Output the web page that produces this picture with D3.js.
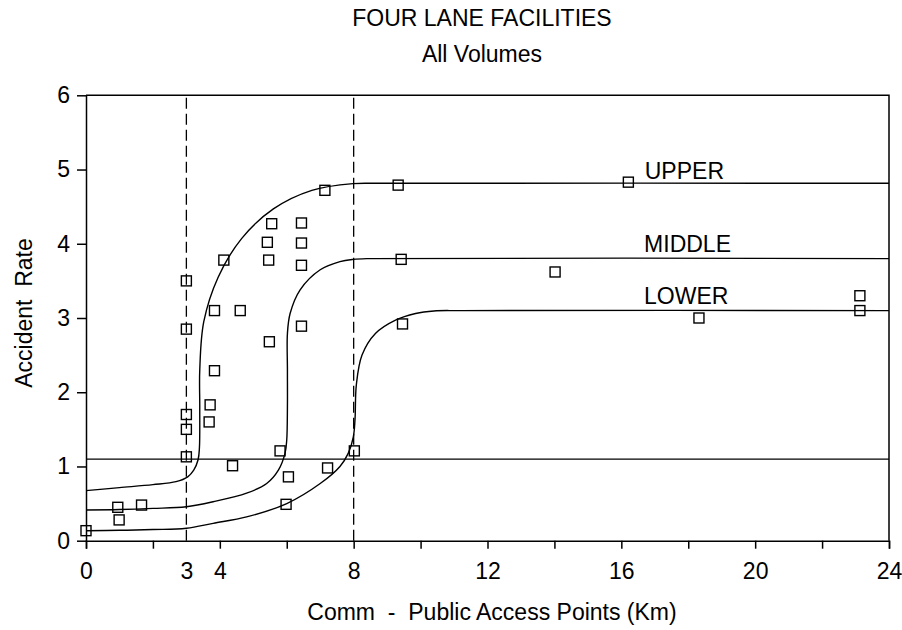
<!DOCTYPE html>
<html>
<head>
<meta charset="utf-8">
<script src="https://cdn.jsdelivr.net/npm/d3@7"></script>
<style>
  body { margin: 0; background: #fff; }
  text { font-family: "Liberation Sans", Arial, sans-serif; fill: #000; }
</style>
</head>
<body>
<div id="chart"></div>
<script>
// chart data
const titleText = "FOUR LANE FACILITIES";
const subtitleText = "All Volumes";
const xLabelText = "Comm  -  Public Access Points (Km)";
const yLabelText = "Accident  Rate";

const xTickMarks = [0, 2, 4, 6, 8, 10, 12, 14, 16, 18, 20, 22, 24];
const xTickLabels = [0, 3, 4, 8, 12, 16, 20, 24];
const yTickLabels = [0, 1, 2, 3, 4, 5, 6];

const dashedX = [3, 8];
const thresholdRate = 1.1;

// observed sites [access points per km, accident rate]
const observations = [
  [0, 0.135], [0.95, 0.45], [0.99, 0.28], [1.66, 0.48],
  [3.0, 3.5], [3.0, 2.85], [3.0, 1.70], [3.0, 1.50], [3.0, 1.13],
  [3.68, 1.60], [3.71, 1.83], [3.84, 2.29], [3.84, 3.10], [4.12, 3.78],
  [4.38, 1.01], [4.61, 3.10], [5.42, 4.02], [5.46, 3.78], [5.48, 2.68],
  [5.55, 4.27], [5.80, 1.21], [5.98, 0.49], [6.05, 0.86], [6.44, 4.28],
  [6.44, 4.01], [6.44, 3.71], [6.44, 2.89], [7.14, 4.72], [7.22, 0.98],
  [8.02, 1.21], [9.33, 4.79], [9.42, 3.79], [9.46, 2.92], [14.02, 3.62],
  [16.21, 4.83], [18.32, 3.00], [23.13, 3.30], [23.13, 3.10]
];

// fitted envelope curves
const upperCurve = [
  [0, 0.674], [1, 0.715], [2, 0.755], [2.69, 0.795], [3.04, 0.86],
  [3.22, 0.95], [3.35, 1.09], [3.39, 1.25], [3.40, 1.8], [3.40, 2.3],
  [3.52, 2.95], [3.95, 3.55], [4.65, 4.07], [5.6, 4.47], [6.75, 4.72],
  [7.98, 4.81], [8.8, 4.815], [24, 4.815]
];
const middleCurve = [
  [0, 0.414], [1, 0.42], [2, 0.435], [3.0, 0.458], [3.8, 0.525],
  [4.8, 0.64], [5.4, 0.77], [5.75, 0.95], [5.95, 1.18], [6.0, 1.36],
  [6.02, 1.8], [6.02, 2.3], [6.02, 2.79], [6.10, 3.06], [6.40, 3.38],
  [7.0, 3.65], [7.59, 3.76], [7.99, 3.79], [8.4, 3.80], [24, 3.80]
];
const lowerCurve = [
  [0, 0.135], [1, 0.14], [2, 0.15], [3.0, 0.167], [3.8, 0.234],
  [4.8, 0.32], [6.0, 0.50], [7.0, 0.77], [7.59, 1.0], [7.84, 1.18],
  [7.99, 1.40], [8.04, 1.63], [8.08, 2.1], [8.25, 2.5], [8.65, 2.79],
  [9.25, 2.97], [9.85, 3.06], [10.4, 3.095], [11.2, 3.10], [24, 3.10]
];
const curveNames = ["UPPER", "MIDDLE", "LOWER"];

let margin = null,
    width = null,
    height = null;
let svg = null;
let x = null,
    y = null;

renderChart();

function renderChart() {
  setupCanvas();
  setupScales();
  appendFrame();
  appendAxes();
  appendGuides();
  appendCurves();
  appendPoints();
  appendTexts();
}

// canvas and plot area
function setupCanvas() {
  margin = {top: 95.3, left: 86, bottom: 89.3, right: 13};
  width = 902 - margin.left - margin.right;
  height = 630 - margin.top - margin.bottom;

  svg = d3.select("#chart")
    .append("svg")
    .attr("width", 902)
    .attr("height", 630)
    .append("g")
    .attr("transform", `translate(${margin.left},${margin.top})`);
}

function setupScales() {
  x = d3.scaleLinear().domain([0, 24]).range([0, width]);
  y = d3.scaleLinear().domain([0, 6]).range([height, 0]);
}

// top and right border of the plot
function appendFrame() {
  svg.append("path")
    .attr("fill", "none")
    .attr("stroke", "#000")
    .attr("stroke-width", 1.5)
    .attr("d", `M${x(0)},${y(6)}H${x(24)}V${y(0)}`);
}

function appendAxes() {
  // tick marks every 2 km
  let xMarks = svg.append("g")
    .attr("transform", `translate(0,${height})`)
    .call(d3.axisBottom(x).tickValues(xTickMarks).tickSize(8).tickFormat(""));

  // labels, including the 3 km threshold
  let xLabels = svg.append("g")
    .attr("transform", `translate(0,${height})`)
    .call(d3.axisBottom(x).tickValues(xTickLabels).tickSize(0).tickPadding(22)
      .tickFormat(d3.format("d")));
  xLabels.select(".domain").remove();

  let yAxis = svg.append("g")
    .call(d3.axisLeft(y).tickValues(yTickLabels).tickSize(9).tickPadding(7)
      .tickSizeOuter(0).tickFormat(d3.format("d")));

  [xMarks, xLabels, yAxis].forEach(function(g) {
    g.selectAll(".domain, line").attr("stroke", "#000").attr("stroke-width", 1.5);
    g.selectAll("text")
      .style("font-family", "'Liberation Sans', Arial, sans-serif")
      .style("font-size", "23px")
      .attr("fill", "#000");
  });
}

function appendGuides() {
  svg.selectAll(".dashed")
    .data(dashedX)
    .enter().append("line")
    .attr("class", "dashed")
    .attr("x1", d => x(d))
    .attr("x2", d => x(d))
    .attr("y1", y(0))
    .attr("y2", y(6))
    .attr("stroke", "#000")
    .attr("stroke-width", 1.3)
    .attr("stroke-dasharray", "11,5");

  svg.append("line")
    .attr("x1", x(0))
    .attr("x2", x(24))
    .attr("y1", y(thresholdRate))
    .attr("y2", y(thresholdRate))
    .attr("stroke", "#000")
    .attr("stroke-width", 1.3);
}

function appendCurves() {
  let line = d3.line()
    .x(d => x(d[0]))
    .y(d => y(d[1]))
    .curve(d3.curveCatmullRom.alpha(0.5));

  svg.selectAll(".envelope")
    .data([upperCurve, middleCurve, lowerCurve])
    .enter().append("path")
    .attr("class", "envelope")
    .attr("fill", "none")
    .attr("stroke", "#000")
    .attr("stroke-width", 1.4)
    .attr("d", line);
}

function appendPoints() {
  const size = 10;
  svg.selectAll(".obs")
    .data(observations)
    .enter().append("rect")
    .attr("class", "obs")
    .attr("x", d => x(d[0]) - size / 2)
    .attr("y", d => y(d[1]) - size / 2)
    .attr("width", size)
    .attr("height", size)
    .attr("fill", "none")
    .attr("stroke", "#000")
    .attr("stroke-width", 1.4);
}

function appendTexts() {
  // curve labels, placed above the plateau of each curve
  const labelAnchors = [[16.7, 4.87], [16.68, 3.89], [16.68, 3.19]];
  svg.selectAll(".curveLabel")
    .data(curveNames)
    .enter().append("text")
    .attr("class", "curveLabel")
    .attr("x", (d, i) => x(labelAnchors[i][0]))
    .attr("y", (d, i) => y(labelAnchors[i][1]))
    .style("font-size", "23px")
    .text(d => d);

  svg.append("text")
    .attr("x", 482 - margin.left)
    .attr("y", 26 - margin.top)
    .attr("text-anchor", "middle")
    .style("font-size", "23px")
    .text(titleText);

  svg.append("text")
    .attr("x", 482 - margin.left)
    .attr("y", 61.7 - margin.top)
    .attr("text-anchor", "middle")
    .style("font-size", "23px")
    .text(subtitleText);

  svg.append("text")
    .attr("x", 492 - margin.left)
    .attr("y", 620 - margin.top)
    .attr("text-anchor", "middle")
    .style("font-size", "23px")
    .style("white-space", "pre")
    .text(xLabelText);

  svg.append("text")
    .attr("transform", `translate(${31.7 - margin.left},${313 - margin.top}) rotate(-90)`)
    .attr("text-anchor", "middle")
    .style("font-size", "23px")
    .style("white-space", "pre")
    .text(yLabelText);
}
</script>
</body>
</html>
